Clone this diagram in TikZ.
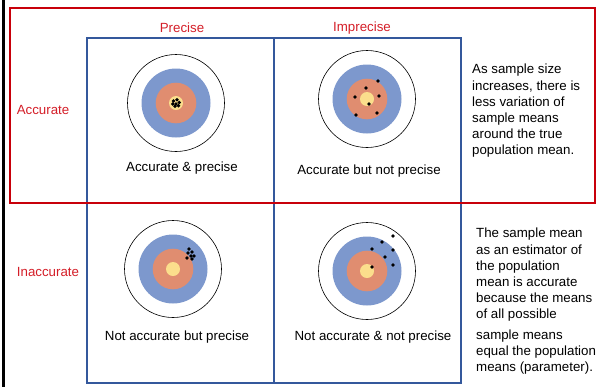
\documentclass[tikz,border=0pt]{standalone}
\usepackage{fontspec}
\setmainfont{Liberation Sans}
\definecolor{ringblue}{RGB}{125,152,205}
\definecolor{ringorange}{RGB}{224,141,112}
\definecolor{ringyellow}{RGB}{251,222,140}
\definecolor{gridblue}{RGB}{52,88,156}
\definecolor{framered}{RGB}{200,0,10}
\definecolor{labelred}{RGB}{212,30,40}
\begin{document}
\begin{tikzpicture}[x=1bp, y=-1bp,
    every node/.style={font=\fontsize{13.3bp}{16.2bp}\selectfont, inner sep=0pt},
    grid/.style={color=gridblue, line width=1.6bp},
    frame/.style={color=framered, line width=2bp},
    hdr/.style={color=labelred},
    shot/.style={fill=black}]
    \useasboundingbox (0,0) rectangle (596,387);
    \draw[line width=2.5bp] (3.5,0) -- (3.5,387);

    % the four targets
    \coordinate (tl) at (176,103);
    \coordinate (tr) at (367,99);
    \coordinate (bl) at (173,269);
    \coordinate (br) at (367,271);
    \foreach \t in {tl,tr,bl,br} {
        \draw[line width=0.6bp] (\t) circle [radius=48.5];
        \fill[ringblue] (\t) circle [radius=34.5];
        \fill[ringorange] (\t) circle [radius=20.3];
        \fill[ringyellow] (\t) circle [radius=7];
    }
    \foreach \dx/\dy in {-2.5/-2, 1/-3.2, 3.2/-0.5, -3.2/1, 0/1, 2.5/2.8, -1/3.2}
        \fill[shot] (tl) ++(\dx,\dy) circle [radius=1.9];
    \foreach \dx/\dy in {11/-18, -1/-11, -12/-2, 12/-3, 2/5, -11/16, 10/14}
        \fill[shot] (tr) ++(\dx,\dy) circle [radius=1.8];
    \foreach \dx/\dy in {16/-20, 19/-17, 15/-16, 18/-13, 21/-13, 14/-11, 19/-10}
        \fill[shot] (bl) ++(\dx,\dy) circle [radius=1.9];
    \foreach \dx/\dy in {26/-35, 15/-29, 5/-22, 26/-21, 18/-14, 26/-6, 5/-4}
        \fill[shot] (br) ++(\dx,\dy) circle [radius=1.8];

    % grid and frame
    \draw[grid] (87,38) rectangle (461,383);
    \draw[grid] (274,38) -- (274,383);
    \draw[grid] (87,203) -- (461,203);
    \draw[frame] (10,8) rectangle (594.5,203);

    \node[hdr] (precise) at (182,28) {Precise};
    \node[hdr] (imprecise) at (362,28) {Imprecise};
    \node[hdr] (accurate) at (43,110) {Accurate};
    \node[hdr] (inaccurate) at (48,272) {Inaccurate};

    \node (captl) at (182,168) {Accurate \& precise};
    \node (captr) at (369,171) {Accurate but not precise};
    \node (capbl) at (177,337) {Not accurate but precise};
    \node (capbr) at (373,337) {Not accurate \& not precise};

    \node[anchor=north west, align=left] (note1) at (472,64)
        {As sample size\\increases, there is\\less variation of\\sample means\\around the true\\population mean.};
    \node[anchor=north west, align=left] (note2) at (476,228)
        {The sample mean\\as an estimator of\\the population\\mean is accurate\\because the means\\of all possible\\[4bp]sample means\\equal the population\\means (parameter).};
\end{tikzpicture}
\end{document}
